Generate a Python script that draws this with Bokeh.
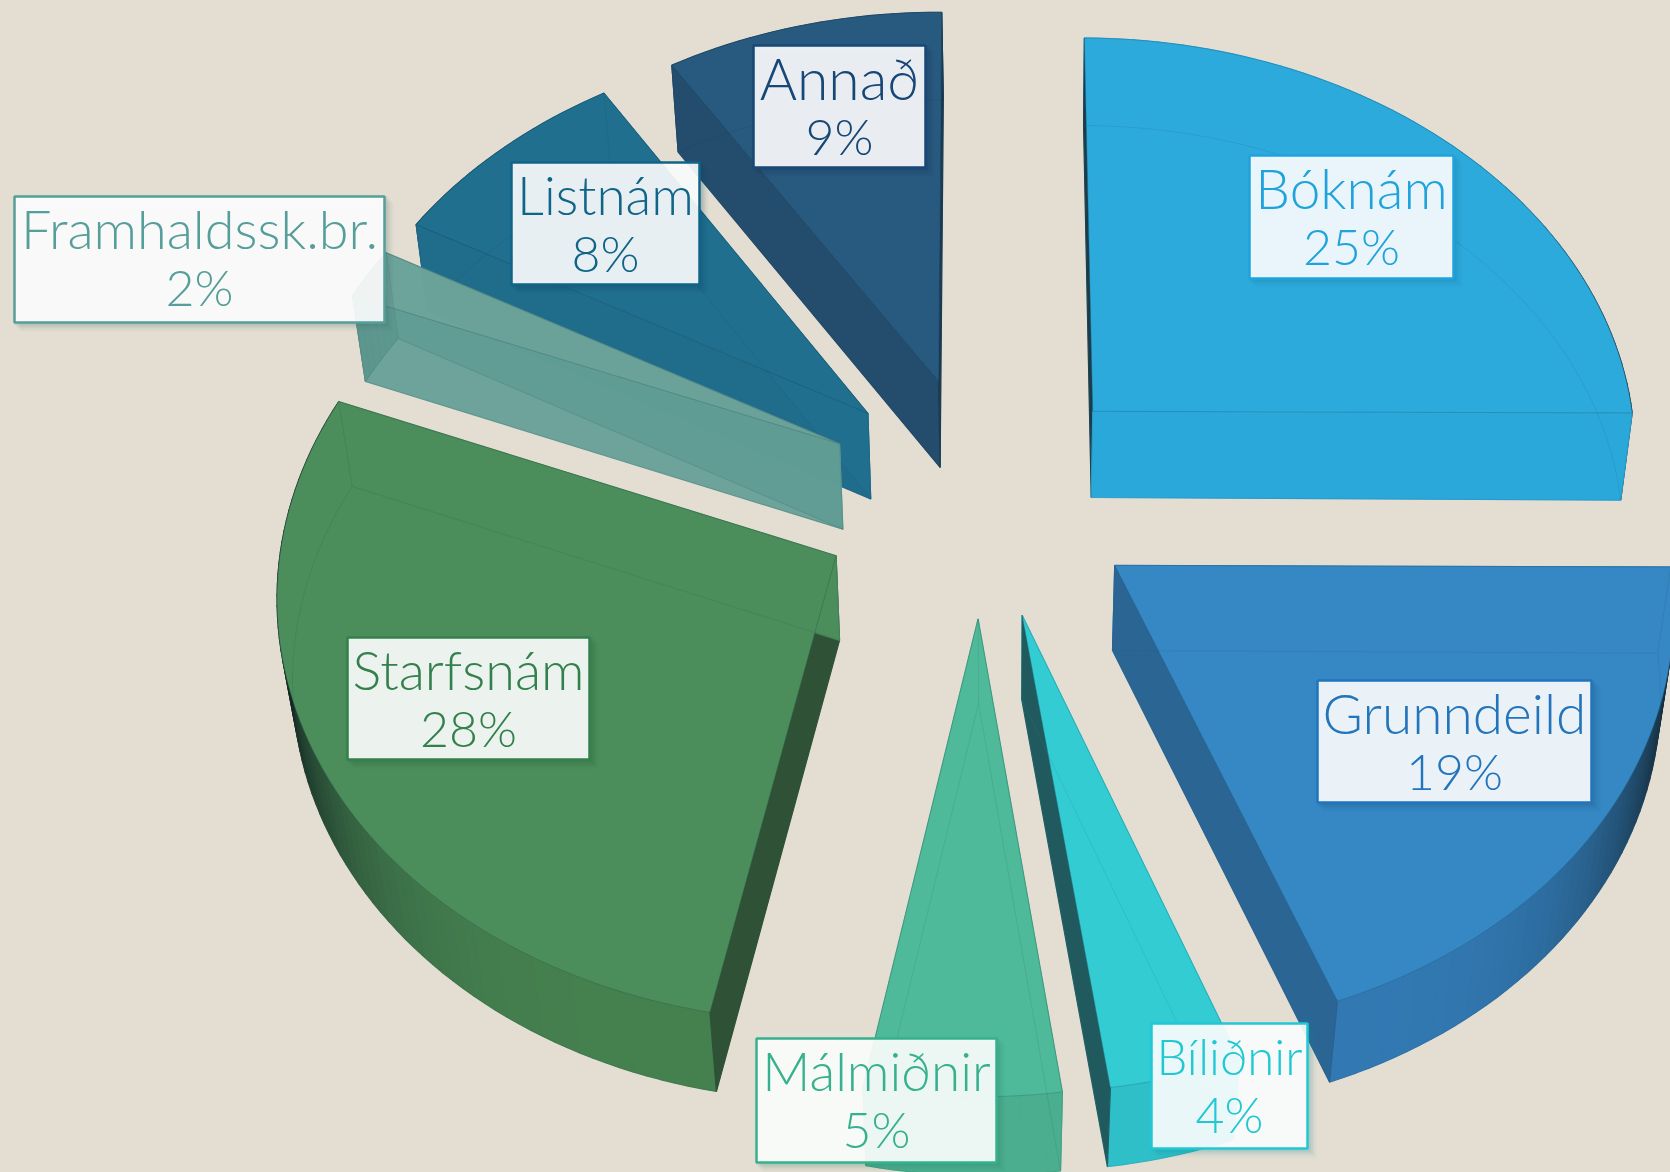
import numpy as np
from bokeh.plotting import figure
from bokeh.embed import file_html
from bokeh.resources import INLINE
from bokeh.core.properties import value

# ---- data
categories = ["Bóknám", "Grunndeild", "Bíliðnir", "Málmiðnir", "Starfsnám", "Framhaldssk.br.", "Listnám", "Annað"]
percent_labels = ["25%", "19%", "4%", "5%", "28%", "2%", "8%", "9%"]
shares = [25.0, 19.3, 3.5, 5.2, 28.0, 2.0, 8.0, 9.0]

# ---- styles
BG = "#E4DED2"
top_col = ["#2DAADC", "#3588C3", "#34CCD3", "#4FBA99", "#4B8D5B", "#6BA39B", "#216F8F", "#28597F"]
start_wall = ["#1B3C48", "#3385BF", "#34CCD3", "#4BAE8E", "#2F5135", "#5F9C94", "#1F6C8B", "#244C6C"]
end_wall = ["#2BA8DA", "#2B6594", "#205A5F", "#4BAE8E", "#4B8D5B", "#5F9C94", "#216F8F", "#1B3A52"]
arc_light = ["#2BA8DA", "#3279B3", "#2FBFC8", "#4BAE8E", "#45804F", "#5F9C94", "#1F6C8B", "#244C6C"]
text_col = ["#1FA3DC", "#2274BC", "#20C8D4", "#37B08D", "#34804D", "#559E99", "#0F6488", "#174776"]
face_alpha = [1, 1, 1, 1, 1, 0.9, 1, 1]
draw_order = [0, 1, 2, 3, 4, 6, 7, 5]
name_size = [55, 55, 49, 53, 54, 54, 53, 57]
pct_size = 50
FONT = "Lato Light"
# label layout in page pixels: left, right, top, bottom
label_box = [(1249, 1453, 155, 278), (1317, 1591, 680, 802), (1151, 1307, 1023, 1148), (756, 996, 1038, 1162),
             (347, 589, 637, 759), (14, 384, 196, 322), (511, 699, 162, 284), (753, 925, 45, 167)]

# ---- projection of the exploded, tilted pie (two plane homographies: upper and lower face)
EXPLODE = [0.29, 0.29, 0.29, 0.29, 0.30, 0.29, 0.29, 0.29]
H_TOP = [549.499161, 80.262362, 981.615557, 1.882237, -376.598637, 494.612432, 0.000584, 0.081925]
H_BOT = [537.924768, 77.987926, 982.143819, 2.644219, -368.129583, 580.003874, -6.7e-05, 0.079208]

def proj(c, x, y):
    w = c[6] * x + c[7] * y + 1
    return (c[0] * x + c[1] * y + c[2]) / w, (c[3] * x + c[4] * y + c[5]) / w

def mix(a, b, t):
    ca = [int(a[i:i + 2], 16) for i in (1, 3, 5)]
    cb = [int(b[i:i + 2], 16) for i in (1, 3, 5)]
    return "#%02X%02X%02X" % tuple(int(round(p + (q - p) * t)) for p, q in zip(ca, cb))

p = figure(width=1670, height=1172, x_range=(0, 1670), y_range=(1172, 0), output_backend="svg",
           toolbar_location=None, min_border=0, background_fill_color=BG, border_fill_color=BG,
           outline_line_color=None)
p.axis.visible = False
p.grid.visible = False

edges = np.cumsum([0] + shares) / sum(shares) * 2 * np.pi
for i in draw_order:
    a0, a1 = edges[i], edges[i + 1]
    mid = (a0 + a1) / 2
    ox, oy = EXPLODE[i] * np.sin(mid), EXPLODE[i] * np.cos(mid)
    phi = np.linspace(a0, a1, max(6, int(shares[i] * 2.5) + 2))
    ax, ay = ox + np.sin(phi), oy + np.cos(phi)
    tu, tv = proj(H_TOP, ax, ay)
    bu, bv = proj(H_BOT, ax, ay)
    au, av = proj(H_TOP, ox, oy)
    cu, cv = proj(H_BOT, ox, oy)

    xs, ys, fills = [], [], []
    for j in range(len(phi) - 1):
        xs.append([tu[j], tu[j + 1], bu[j + 1], bu[j]])
        ys.append([tv[j], tv[j + 1], bv[j + 1], bv[j]])
        s = abs(np.sin((phi[j] + phi[j + 1]) / 2)) ** 6
        fills.append(mix(arc_light[i], "#0E1A1E", s * 0.95))
    xs.append([au, tu[0], bu[0], cu]); ys.append([av, tv[0], bv[0], cv]); fills.append(start_wall[i])
    xs.append([au, tu[-1], bu[-1], cu]); ys.append([av, tv[-1], bv[-1], cv]); fills.append(end_wall[i])
    p.patches(xs, ys, fill_color=fills, line_color=fills, fill_alpha=face_alpha[i], line_alpha=face_alpha[i], line_width=1.2)
    p.patch([au] + list(tu), [av] + list(tv), fill_color=top_col[i], fill_alpha=face_alpha[i],
            line_color=mix(top_col[i], "#0B2A3A", 0.45), line_alpha=0.45, line_width=1)
    # edges of the far side, showing through the faces
    hidden_x = [[cu] + list(bu) + [cu], [au, cu], [tu[0], bu[0]], [tu[-1], bu[-1]]]
    hidden_y = [[cv] + list(bv) + [cv], [av, cv], [tv[0], bv[0]], [tv[-1], bv[-1]]]
    p.multi_line(hidden_x, hidden_y, line_color=mix(top_col[i], "#0B2A3A", 0.45), line_alpha=0.2, line_width=1)

for i in range(len(categories)):
    l, r, t, b = label_box[i]
    for off, al in ((9, 0.04), (7, 0.06), (5, 0.08), (3, 0.1)):
        p.quad(left=[l + off - 3], right=[r + off], top=[t + off - 3], bottom=[b + off],
               fill_color=mix(text_col[i], "#000000", 0.3), fill_alpha=al, line_color=None)
    p.quad(left=[l], right=[r], top=[t], bottom=[b], fill_color="#FFFFFF", fill_alpha=0.9,
           line_color=text_col[i], line_width=2.5)
    xc = (l + r) / 2
    p.text([xc], [t + 32], text=[categories[i]], text_font=value(FONT), text_font_size="%dpx" % name_size[i],
           text_color=text_col[i], text_align="center", text_baseline="middle")
    p.text([xc], [t + 90], text=[percent_labels[i]], text_font=value(FONT), text_font_size="%dpx" % pct_size,
           text_color=text_col[i], text_align="center", text_baseline="middle")

html = file_html(p, INLINE)
html = html.replace("<head>", "<head><style>html,body{margin:0;background:%s;overflow:hidden}</style>" % BG, 1)
open("out.html", "w").write(html)
